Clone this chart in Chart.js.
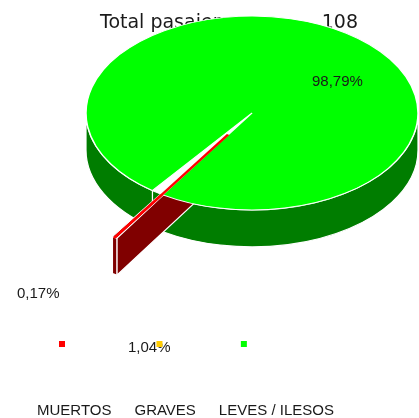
<!DOCTYPE html>
<html>
<head>
<meta charset="utf-8">
<script src="https://cdn.jsdelivr.net/npm/chart.js@4.4.1/dist/chart.umd.min.js"></script>
<style>
  html, body { margin: 0; padding: 0; background: #fff; }
  #contenedor { position: relative; width: 419px; height: 418px; }
</style>
</head>
<body>
<div id="contenedor"><canvas id="grafico"></canvas></div>
<script>
const categorias = ['MUERTOS', 'GRAVES', 'LEVES / ILESOS'];
const porcentajes = [0.17, 1.04, 98.79];
const totalPasajeros = 108;

const colorTapa = ['#ff0000', '#ffffff', '#00ff00'];
const colorBorde = ['#ff0000', '#ffffff', '#ffffff'];
const colorLado = ['#800000', null, '#007d00'];
const colorLeyenda = ['#ff0000', '#ffcc00', '#00ff00'];
const separacion = [176, 0, 0];

const ALTO = 37;        // grosor de la torta en px
const APLASTE = 0.584;  // alto/ancho de la elipse
const FUENTE = '15px "Liberation Sans", Arial, sans-serif';

const formato = v => v.toFixed(2).replace('.', ',') + '%';

// donde va cada etiqueta de porcentaje (esquina izq., linea base)
const posEtiqueta = [[17, 298], [128, 352], [312, 86]];

function centroY(chart) {
  const area = chart.chartArea;
  return (area.top + area.bottom) / 2;
}

const torta3d = {
  id: 'torta3d',
  beforeDatasetsDraw(chart) {
    const ctx = chart.ctx;

    // titulo, queda tapado por la torta
    ctx.save();
    ctx.fillStyle = '#1a1a1a';
    ctx.font = '19px "DejaVu Sans", sans-serif';
    ctx.textAlign = 'left';
    ctx.fillText('Total pasajeros:', 100, 28);
    ctx.textAlign = 'right';
    ctx.fillText(String(totalPasajeros), 358, 28);
    ctx.restore();

    const cy = centroY(chart);
    const arcos = chart.getDatasetMeta(0).data;

    ctx.save();
    ctx.strokeStyle = '#ffffff';
    ctx.lineWidth = 1.2;
    ctx.lineJoin = 'round';
    // lados de cada porcion, de atras hacia adelante
    for (let i = arcos.length - 1; i >= 0; i--) {
      if (!colorLado[i]) continue;
      const a = arcos[i];
      const o = (a.options.offset || 0) / 4;
      const mitad = (a.startAngle + a.endAngle) / 2;
      const fix = 1 - Math.sin(Math.min(Math.PI, a.circumference));
      const R = a.outerRadius + o * fix;
      const ry = R * APLASTE;
      const ax = a.x + Math.cos(mitad) * o;
      const ay = cy + (a.y + Math.sin(mitad) * o - cy) * APLASTE;
      // el borde de la tapa ensancha un poco la porcion
      const extra = (colorBorde[i] === colorTapa[i] ? a.options.borderWidth / 2 : 0) / R;
      const ini = a.startAngle - extra;
      const fin = a.endAngle + extra;
      ctx.fillStyle = colorLado[i];

      // caras rectas (fin primero, inicio despues)
      for (const t of [fin, ini]) {
        const px = ax + R * Math.cos(t);
        const py = ay + ry * Math.sin(t);
        ctx.beginPath();
        ctx.moveTo(ax, ay);
        ctx.lineTo(px, py);
        ctx.lineTo(px, py + ALTO);
        ctx.lineTo(ax, ay + ALTO);
        ctx.closePath();
        ctx.fill();
        ctx.stroke();
      }

      // cara curva, solo la mitad de adelante
      for (let n = -1; n <= 2; n++) {
        const lo = Math.max(ini, n * 2 * Math.PI);
        const hi = Math.min(fin, n * 2 * Math.PI + Math.PI);
        if (hi <= lo) continue;
        ctx.beginPath();
        ctx.ellipse(ax, ay, R, ry, 0, lo, hi);
        ctx.ellipse(ax, ay + ALTO, R, ry, 0, hi, lo, true);
        ctx.closePath();
        ctx.fill();
        ctx.stroke();
      }
    }
    ctx.restore();

    // la tapa la dibuja Chart.js, aplastada
    ctx.save();
    ctx.translate(0, cy);
    ctx.scale(1, APLASTE);
    ctx.translate(0, -cy);
  },
  afterDatasetsDraw(chart) {
    const ctx = chart.ctx;
    // la porcion separada va encima de las demas
    chart.getDatasetMeta(0).data[0].draw(ctx);
    ctx.restore();

    ctx.save();
    ctx.font = FUENTE;
    ctx.fillStyle = '#1a1a1a';
    ctx.textBaseline = 'alphabetic';
    ctx.textAlign = 'left';
    porcentajes.forEach((v, i) => {
      ctx.fillText(formato(v), posEtiqueta[i][0], posEtiqueta[i][1]);
    });

    // leyenda: cuadritos arriba, nombres abajo
    let x = 37;
    categorias.forEach((c, i) => {
      ctx.fillStyle = '#1a1a1a';
      ctx.fillText(c, x, 415);
      ctx.fillStyle = colorLeyenda[i];
      ctx.fillRect(x + 22, 341, 6, 6);
      x += ctx.measureText(c).width + 23;
    });
    ctx.restore();
  }
};

new Chart(document.getElementById('grafico'), {
  type: 'pie',
  data: {
    labels: categorias,
    datasets: [{
      data: porcentajes,
      backgroundColor: colorTapa,
      borderColor: colorBorde,
      borderWidth: [3, 1.5, 1.5],
      offset: separacion,
      clip: false
    }]
  },
  options: {
    responsive: true,
    maintainAspectRatio: false,
    animation: false,
    events: [],
    rotation: 212.5,
    radius: 166,
    layout: { padding: { left: 86, right: 1, top: 0, bottom: 192 } },
    plugins: {
      legend: { display: false },
      title: { display: false },
      tooltip: { enabled: false }
    }
  },
  plugins: [torta3d]
});
</script>
</body>
</html>
